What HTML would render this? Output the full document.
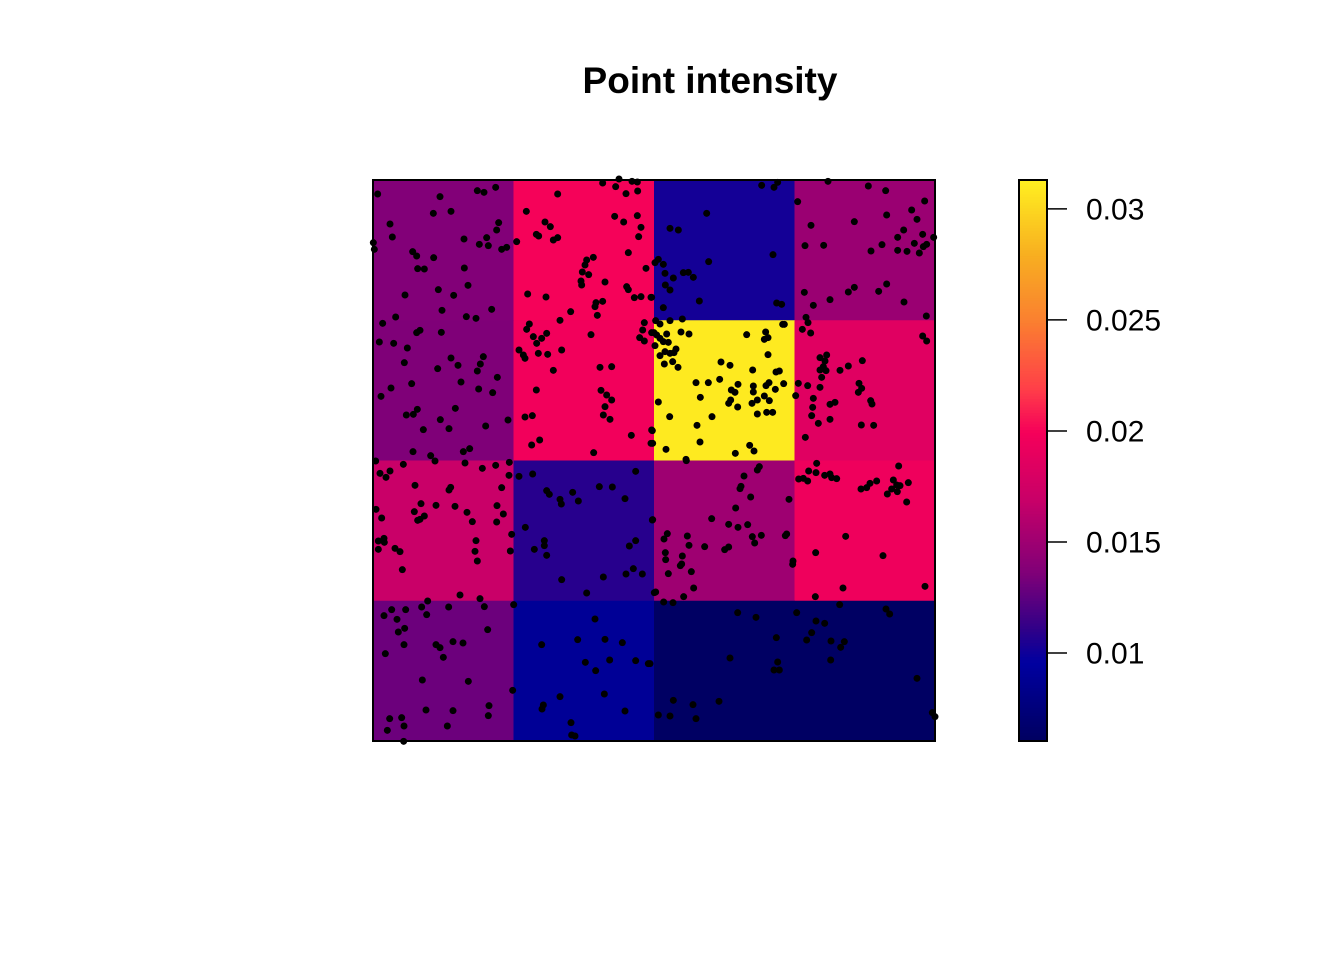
<!DOCTYPE html>
<html><head><meta charset="utf-8"><style>
body{margin:0;background:#fff}
svg{display:block;font-family:"Liberation Sans",Arial,sans-serif}
</style></head><body>
<svg id="c" width="1344" height="960">
<text x="710" y="93" text-anchor="middle" font-size="37" font-weight="bold">Point intensity</text>
<g id="cells"></g>
<g id="pts"></g>
<rect x="373" y="180" width="562" height="561" fill="none" stroke="#000" stroke-width="2"/>
<g id="bar"></g>
</svg>
<script>
// quadrat intensities, rows top to bottom
const row1 = [0.0137, 0.0200, 0.0102, 0.0148];
const row2 = [0.0136, 0.0197, 0.0310, 0.0185];
const row3 = [0.0170, 0.0108, 0.0150, 0.0195];
const row4 = [0.0130, 0.0090, 0.0062, 0.0062];
const cbTicks = [0.01, 0.015, 0.02, 0.025, 0.03];
const cbTickLabels = ["0.01", "0.015", "0.02", "0.025", "0.03"];
const cbMin = 0.00604, cbMax = 0.0313;
// points grouped by region
const ptsA = [[38,72],[225,80],[337,62],[357,67],[392,52],[205,130],[258,124],[75,162],[82,201],[401,158],[395,180],[365,203],[297,207],[343,223],[370,227],[410,238],[425,232],[25,218],[28,238],[143,245],[155,258],[206,263],[158,296],[178,297],[298,294],[309,346],[220,359],[120,375],[266,376],[92,441],[231,421],[380,418],[304,440],[333,445],[53,460],[155,488],[165,481],[229,487],[43,516],[86,520],[127,534],[258,564],[279,586],[355,560],[346,582],[337,603],[118,578],[218,596],[397,622],[288,636],[140,641],[78,654],[48,679],[341,657],[383,668],[157,718],[124,735],[145,733],[271,715],[226,749],[175,779],[252,776],[362,768],[429,750],[144,845],[197,857],[295,845],[314,836],
[484,124],[578,72],[713,39],[762,27],[752,50],[801,34],[817,36],[783,71],[818,63],[749,139],[776,156],[817,137],[828,172],[821,200],[540,156],[556,170],[514,193],[521,198],[565,210],[578,203],[455,215],[790,248],[843,295],[685,262],[665,270],[660,285],[652,306],[671,314],[648,333],[650,345],[720,336],[785,350],[790,359],[808,383],[828,380],[858,382],[488,372],[543,381],[693,398],[713,394],[690,410],[697,436],[617,425],[585,451],
[493,462],[485,478],[545,490],[505,500],[530,505],[515,520],[462,540],[475,555],[520,550],[548,553],[480,565],[590,540],[565,601],[678,494],[705,592],[740,590],[514,660],[708,661],[725,675],[740,690],[720,710],[715,735],[735,748],[480,741],[502,737],[524,810],[500,825],[686,848],[799,796],[838,458],[833,480],[824,503],[860,488],[838,513],[860,780],[858,820]];
const ptsB = [[335,46],[372,52],[383,37],[534,34],[655,48],[707,62],[824,93],[443,95],[170,130],[60,175],[85,180],[483,166],[613,155],[710,135],[785,120],[801,148],[761,180],[743,202],[818,193],[851,202],[793,220],[830,223],[820,230],[743,241],[771,244],[808,249],[696,224],[663,243],[465,227],[521,226],[369,254],[176,275],[15,278],[25,268],[40,283],[45,310],[70,324],[100,308],[115,307],[130,322],[46,345],[60,360],[5,382],[148,393],[40,413],[380,399],[395,403],[463,367],[490,406],[540,389],[595,366],[613,352],[686,364],[710,342],[762,396],[829,438],
[17,452],[30,462],[60,452],[97,447],[12,488],[20,495],[30,505],[50,492],[15,527],[40,515],[55,517],[45,545],[60,550],[78,537],[72,548],[30,557],[43,582],[68,575],[84,592],[93,486],[117,492],[290,494],[347,486],[343,508],[354,503],[398,463],[403,463],[354,554],[213,576],[240,586],[308,600],[378,606],[388,603],[138,638],[175,638],[209,628],[264,643],[244,660],[255,667],[310,648],[357,638],[348,647],[401,641],[376,658],[151,682],[242,690],[236,700],[263,711],[306,700],[310,666],[322,690],[343,678],[358,692],[322,732],[350,727],[368,727],[186,740],[59,740],[25,696],[141,766],[150,816],[299,826],[312,843],[256,850],[48,838],[7,782],[8,820],[108,868],
[468,442],[474,458],[457,478],[482,489],[818,498],[830,513],[510,563],[530,555],[525,573],[520,590],[510,600],[528,602],[515,622],[570,601],[595,588],[637,572],[627,640],[635,655],[625,667],[445,640],[437,677],[473,647],[510,652],[490,685],[488,712],[485,737],[505,760],[540,703],[555,697],[540,748],[662,692],[666,702],[634,765],[671,766],[466,802]];
const ptsC = [[45,55],[63,67],[75,48],[115,28],[32,18],[210,18],[300,24],[352,40],[392,31],[433,22],[432,61],[150,91],[257,97],[252,105],[410,98],[33,163],[50,189],[148,170],[168,146],[178,183],[158,196],[165,193],[213,151],[270,154],[306,172],[322,200],[396,152],[415,177],[395,201],[440,238],[57,250],[40,258],[58,262],[40,283],[90,280],[105,290],[333,257],[330,289],[337,318],[112,344],[436,288],
[462,64],[503,57],[545,107],[553,118],[585,133],[589,147],[623,112],[640,138],[703,95],[742,96],[780,131],[812,49],[862,195],[481,217],[538,257],[538,272],[508,283],[545,301],[590,374],[665,414],[715,366],[783,357],[805,341],[832,357],[793,273],[812,257],[868,413],
[285,420],[345,431],[358,455],[188,438],[170,456],[185,479],[57,482],[80,464],[122,464],[96,493],[119,520],[100,531],[251,456],[368,524],[61,596],[117,569],[213,569],[225,578],[235,607],[264,560],[294,564],[446,449],[172,675],[310,679],[443,706],[183,765],[264,767],[372,752],[370,782],[247,813],[74,791],[110,788],[117,813],[67,826],[116,859],
[690,492],[638,554],[720,553],[772,563],[530,569],[661,622],[692,647],[734,615],[812,617],[850,626],[585,725],[718,717],[780,768],[535,750],[531,762],[618,803],[620,840],[630,843]];
const ptsD = [[109,17],[282,63],[322,45],[328,35],[270,101],[273,94],[302,126],[257,159],[185,191],[236,208],[264,217],[293,209],[307,245],[314,264],[334,241],[417,133],[406,242],[410,237],[429,318],[428,328],[52,236],[42,252],[112,243],[117,271],[164,275],[224,284],[236,276],[46,293],[47,314],[97,303],[91,332],[95,327],[55,356],[124,350],[131,399],[101,425],[17,411],[41,441],[69,443],[8,194],
[500,25],[498,53],[476,48],[446,72],[460,70],[473,78],[524,61],[540,57],[545,68],[560,71],[746,33],[633,102],[650,98],[660,85],[680,78],[730,75],[740,90],[725,102],[712,117],[750,92],[775,83],[742,110],[770,141],[587,244],[497,293],[699,302],[825,394],[579,399],[496,425],[569,449],
[263,473],[318,487],[440,473],[498,498],[524,505],[485,533],[470,555],[543,558],[583,560],[572,577],[542,615],[708,462],[719,477],[379,548],[240,609],[383,621],[372,645],[388,645],[0,626],[70,736],[129,749],[207,739],[25,780],[60,783],[138,791],[801,670],[847,773],[855,785]];
const groupOrigins = [[-8,-10],[277,-10],[-8,275],[277,275]];

const NS="http://www.w3.org/2000/svg";
const L=373,T=180,W=562,H=561;
const xS=v=>L+v/562*W, yS=v=>T+v/561*H;
const stops=[[0,[0,0,96]],[0.14,[0,0,160]],[0.2,[48,0,136]],[0.3,[128,0,120]],[0.43,[200,0,104]],[0.55,[245,0,90]],[0.63,[255,64,72]],[0.75,[250,128,48]],[0.87,[248,176,32]],[1,[255,240,32]]];
function col(v){let t=Math.max(0,Math.min(1,(v-cbMin)/(cbMax-cbMin)));
 for(let i=1;i<stops.length;i++){if(t<=stops[i][0]){const a=stops[i-1],b=stops[i],f=(t-a[0])/(b[0]-a[0]);
 return `rgb(${a[1].map((c,k)=>Math.round(c+(b[1][k]-c)*f)).join(',')})`;}}return 'rgb(255,240,32)';}
function mk(tag,attrs,parent){const e=document.createElementNS(NS,tag);for(const k in attrs)e.setAttribute(k,attrs[k]);parent.appendChild(e);return e;}
const cells=document.getElementById('cells');
[row1,row2,row3,row4].forEach((row,r)=>row.forEach((v,c)=>{
 const e=mk('rect',{x:L+c*W/4,y:T+r*H/4,width:W/4+0.5,height:H/4+0.5,fill:col(v)},cells);
 
 
}));
const pg=document.getElementById('pts');
[ptsA,ptsB,ptsC,ptsD].forEach((g,gi)=>g.forEach(p=>{
 const dx=p[0]/3+groupOrigins[gi][0], dy=p[1]/3+groupOrigins[gi][1];
 const e=mk('circle',{cx:xS(dx),cy:yS(dy),r:3.5,fill:'#000'},pg);
 
 
}));
const bar=document.getElementById('bar');
const bx=1019,bw=28,bt=180,bb=741;
const cbY=v=>bb-(v-cbMin)/(cbMax-cbMin)*(bb-bt);
for(let i=0;i<200;i++){const v0=cbMin+(cbMax-cbMin)*i/200;
 const e=mk('rect',{x:bx,y:cbY(v0)-(bb-bt)/200-0.3,width:bw,height:(bb-bt)/200+0.6,fill:col(v0+(cbMax-cbMin)/400)},bar);
 
 }
const fr=mk('rect',{x:bx,y:bt,width:bw,height:bb-bt,fill:'none',stroke:'#000','stroke-width':2},bar);


cbTicks.forEach((v,i)=>{const y=cbY(v);
 const t=mk('line',{x1:bx+bw,x2:bx+bw+20,y1:y,y2:y,stroke:'#000','stroke-width':1.5},bar);
 
 
 const tx=mk('text',{x:1086,y:y+10.5,'font-size':30},bar);tx.textContent=cbTickLabels[i];
 
 });
</script>
</body></html>
